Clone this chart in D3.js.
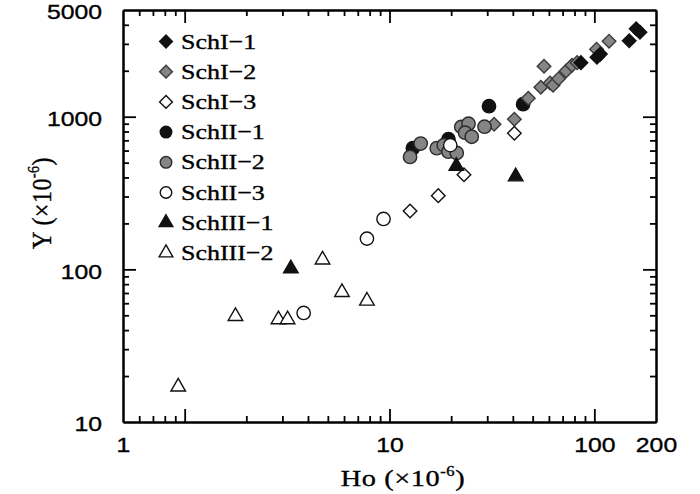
<!DOCTYPE html>
<html>
<head>
<meta charset="utf-8">
<script src="https://cdn.jsdelivr.net/npm/d3@7"></script>
<style>
  body { margin: 0; background: #fff; }
  svg { display: block; font-family: "Liberation Serif", "Times New Roman", serif; }
  svg text { fill: #000; stroke: #000; stroke-width: 0.35px; }
</style>
</head>
<body>
<svg id="chart"></svg>
<script>
// Ho, Y (×10^-6) por grupo
const schI1 = [[86, 2260], [103, 2450], [107, 2570], [148, 3140], [160, 3770], [167, 3580]];
const schI2 = [[32.4, 893], [40.7, 963], [47.6, 1320], [54.8, 1560], [56.8, 2140], [60.8, 1665],
               [62.9, 1610], [66.9, 1775], [72.8, 1990], [77.8, 2175], [82.4, 2260], [102.5, 2770], [118, 3125]];
const schI3 = [[12.6, 241], [17.3, 304], [23.1, 417], [40.7, 780]];
const schII1 = [[13.0, 622], [19.4, 712], [30.6, 1172], [44.9, 1207]];
const schII2 = [[12.6, 545], [14.2, 667], [17.0, 622], [18.4, 651], [19.4, 590], [21.3, 579],
                [22.4, 858], [24.3, 900], [23.4, 786], [25.2, 739], [29.1, 860]];
const schII3 = [[3.81, 51.8], [7.76, 159], [9.35, 214], [19.8, 651]];
const schIII1 = [[3.30, 101], [21.2, 474], [41.3, 405]];
const schIII2 = [[0.93, 17.0], [1.77, 49.3], [2.87, 46.9], [3.18, 46.9], [4.71, 115.6], [5.86, 70.8], [7.76, 62.1]];

const seriesNames = ["SchI−1", "SchI−2", "SchI−3", "SchII−1", "SchII−2", "SchII−3", "SchIII−1", "SchIII−2"];
const seriesData = [schI1, schI2, schI3, schII1, schII2, schII3, schIII1, schIII2];

// ticks
const xTickValues = [0.5, 10, 100, 200];
const xTickLabels = ["1", "10", "100", "200"];
const xMajor = [1, 10, 100];
const xMinor = [0.6, 0.7, 0.8, 0.9, 2, 3, 4, 5, 6, 7, 8, 9, 20, 30, 40, 50, 60, 70, 80, 90];
const yTickValues = [10, 100, 1000, 5000];
const yTickLabels = ["10", "100", "1000", "5000"];
const yMajor = [100, 1000];
const yMinor = [20, 30, 40, 50, 60, 70, 80, 90, 200, 300, 400, 500, 600, 700, 800, 900, 2000, 3000, 4000];

// estilo de cada grupo (mismo orden que seriesNames)
const shapes = ["diamond", "diamond", "diamond", "circle", "circle", "circle", "triangle", "triangle"];
const fills = ["#111", "#858585", "#fff", "#111", "#858585", "#fff", "#111", "#fff"];
const strokes = ["#111", "#3a3a3a", "#111", "#111", "#2a2a2a", "#111", "#111", "#111"];
// orden de dibujo (índices) para reproducir los solapamientos
const drawOrder = [3, 1, 0, 4, 2, 5, 6, 7];

const width = 700, height = 494;
const mLeft = 123, mRight = 656, mTop = 10, mBottom = 422;
const sx = 1.18; // la figura original está algo ensanchada

const svg = d3.select("#chart").attr("width", width).attr("height", height);
svg.append("rect").attr("width", width).attr("height", height).attr("fill", "#fff");

const x = d3.scaleLog().domain([0.5, 200]).range([mLeft, mRight]);
const y = d3.scaleLog().domain([10, 5000]).range([mBottom, mTop]);

function stretchText(sel) {
  sel.each(function () {
    const t = d3.select(this);
    const tx = +t.attr("x") || 0, ty = +t.attr("y") || 0;
    t.attr("x", 0).attr("y", 0).attr("transform", `translate(${tx},${ty}) scale(${sx},1)`);
  });
}

function tickAxis(axisFn, scale, values, size, pos, isX) {
  const g = svg.append("g")
    .attr("transform", isX ? `translate(0,${pos})` : `translate(${pos},0)`)
    .call(axisFn(scale).tickValues(values).tickSizeInner(-size).tickSizeOuter(0).tickFormat(""));
  g.selectAll("line").attr("stroke", "#000").attr("stroke-width", 1.8);
  g.select(".domain").attr("stroke", "#000").attr("stroke-width", 2);
  return g;
}

// marcas mayores y menores, en los cuatro lados
[[d3.axisBottom, mBottom], [d3.axisTop, mTop]].forEach(([fn, p]) => {
  tickAxis(fn, x, xMajor, 13, p, true);
  tickAxis(fn, x, xMinor, 6, p, true);
});
[[d3.axisLeft, mLeft], [d3.axisRight, mRight]].forEach(([fn, p]) => {
  tickAxis(fn, y, yMajor, 13, p, false);
  tickAxis(fn, y, yMinor, 6, p, false);
});

// etiquetas
const xLab = svg.append("g").attr("transform", `translate(0,${mBottom})`)
  .call(d3.axisBottom(x).tickValues(xTickValues).tickSize(0).tickPadding(15)
    .tickFormat((d, i) => xTickLabels[i]));
xLab.select(".domain").remove();
xLab.selectAll("text").attr("font-size", 21).attr("font-family", null).call(stretchText);

const yLab = svg.append("g").attr("transform", `translate(${mLeft},0)`)
  .call(d3.axisLeft(y).tickValues(yTickValues).tickSize(0).tickPadding(21)
    .tickFormat((d, i) => yTickLabels[i]));
yLab.select(".domain").remove();
yLab.selectAll("text").attr("font-size", 21).attr("font-family", null).attr("dy", "0.42em").call(stretchText);

// títulos
const xt = svg.append("text")
  .attr("transform", `translate(403,486) scale(${sx},1)`)
  .attr("text-anchor", "middle").attr("font-size", 24).attr("letter-spacing", 0.5);
xt.append("tspan").text("Ho (×10");
xt.append("tspan").attr("font-size", 14).attr("dy", -10).text("-6");
xt.append("tspan").attr("dy", 10).text(")");

const yt = svg.append("text")
  .attr("transform", `translate(51,203) scale(${sx},1) rotate(-90)`)
  .attr("text-anchor", "middle").attr("font-size", 24).attr("letter-spacing", 0.5);
yt.append("tspan").text("Y (×10");
yt.append("tspan").attr("font-size", 14).attr("dy", -10).text("-6");
yt.append("tspan").attr("dy", 10).text(")");

// símbolos
const symSize = { diamond: 92, circle: 140, triangle: 92 };
const symType = { diamond: d3.symbolSquare, circle: d3.symbolCircle, triangle: d3.symbolTriangle };
function marker(g, i, size) {
  const shp = shapes[i];
  return g.append("path")
    .attr("d", d3.symbol().type(symType[shp]).size(size || symSize[shp])())
    .attr("fill", fills[i]).attr("stroke", strokes[i]).attr("stroke-width", 1.4);
}

const plot = svg.append("g");
drawOrder.forEach(i => {
  seriesData[i].forEach(d => {
    const g = plot.append("g").attr("transform", `translate(${x(d[0])},${y(d[1])})`);
    const m = marker(g, i);
    if (shapes[i] === "diamond") m.attr("transform", "rotate(45)");
  });
});

// leyenda
const legend = svg.append("g");
seriesNames.forEach((name, i) => {
  const cy = 41.5 + i * 30.2;
  const g = legend.append("g").attr("transform", `translate(166,${cy})`);
  const m = marker(g, i, shapes[i] === "circle" ? 105 : 82);
  if (shapes[i] === "diamond") m.attr("transform", "rotate(45)");
  legend.append("text")
    .attr("transform", `translate(181,${cy + 7}) scale(${sx},1)`)
    .attr("font-size", 22).text(name);
});
</script>
</body>
</html>
